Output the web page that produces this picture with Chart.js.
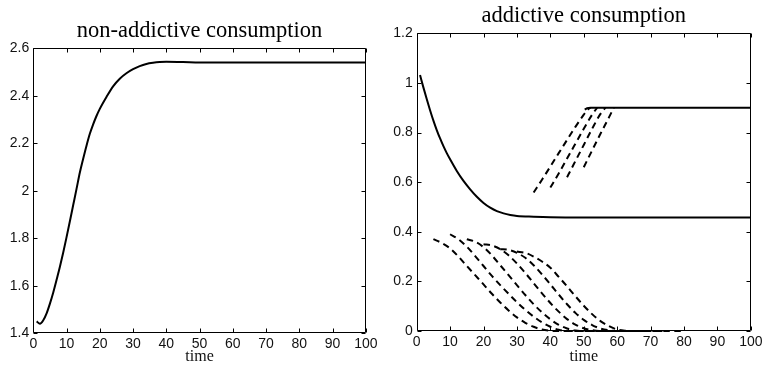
<!DOCTYPE html>
<html>
<head>
<meta charset="utf-8">
<script src="https://cdn.jsdelivr.net/npm/chart.js@4/dist/chart.umd.min.js"></script>
<style>
  body { margin: 0; background: #fff; }
  #wrap { position: relative; width: 765px; height: 365px; }
  canvas { position: absolute; top: 0; }
  #left { left: 0; }
  #right { left: 380px; }
</style>
</head>
<body>
<div id="wrap">
  <canvas id="left" width="380" height="365"></canvas>
  <canvas id="right" width="385" height="365"></canvas>
</div>
<script>
// tick labels
const xTicks = [0, 10, 20, 30, 40, 50, 60, 70, 80, 90, 100];
const leftTicks = [1.4, 1.6, 1.8, 2, 2.2, 2.4, 2.6];
const rightTicks = [0, 0.2, 0.4, 0.6, 0.8, 1, 1.2];

// non-addictive consumption path
const nonAddTime = [1, 2, 3, 4, 5, 6, 7, 8, 9, 10, 11, 12, 13, 14, 15, 16, 17, 18, 19, 20, 22, 24, 26, 28, 30, 32, 34, 36, 38, 40, 45, 50, 60, 70, 80, 90, 100];
const nonAddValue = [1.45, 1.44, 1.455, 1.484, 1.525, 1.572, 1.625, 1.68, 1.74, 1.805, 1.872, 1.94, 2.008, 2.077, 2.135, 2.19, 2.24, 2.28, 2.315, 2.345, 2.395, 2.44, 2.472, 2.495, 2.512, 2.525, 2.534, 2.539, 2.542, 2.543, 2.542, 2.54, 2.54, 2.54, 2.54, 2.54, 2.54];

// addictive consumption, solid paths
const addTime = [1, 2, 3, 4, 5, 6, 7, 8, 9, 10, 12, 14, 16, 18, 20, 22, 24, 26, 28, 30, 35, 40, 50, 60, 70, 80, 90, 100];
const addValue = [1.032, 0.982, 0.935, 0.89, 0.848, 0.81, 0.776, 0.745, 0.717, 0.692, 0.645, 0.605, 0.571, 0.541, 0.516, 0.497, 0.483, 0.474, 0.468, 0.464, 0.461, 0.459, 0.458, 0.458, 0.458, 0.458, 0.458, 0.458];
const highTime = [50.3, 51, 52, 100];
const highValue = [0.892, 0.898, 0.9, 0.9];

// addictive consumption, rising dashed paths
const rise1Time = [35, 37.5, 40, 42.5, 45, 47.5, 50, 51, 52];
const rise1 = [0.558, 0.61, 0.663, 0.717, 0.77, 0.823, 0.872, 0.89, 0.9];
const rise2Time = [40, 42.5, 45, 47.5, 50, 52.5, 54];
const rise2 = [0.578, 0.635, 0.695, 0.755, 0.815, 0.872, 0.9];
const rise3Time = [45, 47.5, 50, 52.5, 55, 56.5];
const rise3 = [0.62, 0.685, 0.75, 0.815, 0.875, 0.9];
const rise4Time = [50, 52.5, 55, 57.5, 59];
const rise4 = [0.66, 0.728, 0.795, 0.86, 0.9];

// addictive consumption, falling dashed paths
const fall1Time = [5, 7.5, 10, 12.5, 15, 17.5, 20, 22.5, 25, 27.5, 30, 32.5, 35, 37.5, 40, 42.5, 55];
const fall1 = [0.37, 0.355, 0.333, 0.3, 0.262, 0.225, 0.188, 0.15, 0.115, 0.083, 0.055, 0.033, 0.017, 0.006, 0.001, 0, 0];
const fall2Time = [10, 12.5, 15, 17.5, 20, 22.5, 25, 27.5, 30, 32.5, 35, 37.5, 40, 42.5, 45, 60];
const fall2 = [0.39, 0.37, 0.34, 0.302, 0.262, 0.222, 0.185, 0.15, 0.116, 0.085, 0.058, 0.035, 0.017, 0.005, 0, 0];
const fall3Time = [15, 17.5, 20, 22.5, 25, 27.5, 30, 32.5, 35, 37.5, 40, 42.5, 45, 47.5, 50, 65];
const fall3 = [0.37, 0.36, 0.338, 0.305, 0.265, 0.225, 0.185, 0.145, 0.108, 0.075, 0.047, 0.025, 0.01, 0.002, 0, 0];
const fall4Time = [20, 22.5, 25, 27.5, 30, 32.5, 35, 37.5, 40, 42.5, 45, 47.5, 50, 52.5, 55, 70];
const fall4 = [0.35, 0.345, 0.33, 0.305, 0.272, 0.234, 0.193, 0.152, 0.113, 0.078, 0.048, 0.026, 0.011, 0.003, 0, 0];
const fall5Time = [25, 27.5, 30, 32.5, 35, 37.5, 40, 42.5, 45, 47.5, 50, 52.5, 55, 57.5, 60, 75];
const fall5 = [0.33, 0.327, 0.315, 0.295, 0.265, 0.228, 0.188, 0.147, 0.108, 0.073, 0.045, 0.024, 0.01, 0.003, 0, 0];
const fall6Time = [30, 32.5, 35, 37.5, 40, 42.5, 45, 47.5, 50, 52.5, 55, 57.5, 60, 62.5, 65, 80];
const fall6 = [0.32, 0.315, 0.3, 0.28, 0.255, 0.218, 0.18, 0.14, 0.102, 0.068, 0.04, 0.02, 0.006, 0.001, 0, 0];

const tickFont = { family: 'Liberation Sans', size: 14 };
const serif = 'Liberation Serif';

function pts(t, v) {
  return t.map((x, i) => ({ x: x, y: v[i] }));
}

function path(t, v, dashed) {
  return {
    data: pts(t, v),
    borderColor: '#000',
    borderWidth: 2,
    borderDash: dashed ? [6.5, 4.5] : [],
    pointRadius: 0,
    cubicInterpolationMode: 'monotone',
    fill: false,
    clip: false
  };
}

// box round the plot with inward ticks on all four sides
const frameTicks = {
  id: 'frameTicks',
  afterDraw(chart) {
    const ctx = chart.ctx;
    const a = chart.chartArea;
    const x = chart.scales.x, y = chart.scales.y;
    const L = Math.round(a.left) + 0.5, R = Math.round(a.right) - 0.5;
    const T = Math.round(a.top) + 0.5, B = Math.round(a.bottom) - 0.5;
    ctx.save();
    ctx.strokeStyle = '#000';
    ctx.lineWidth = 1;
    ctx.beginPath();
    ctx.rect(L, T, R - L, B - T);
    x.ticks.forEach(t => {
      const px = Math.round(x.getPixelForValue(t.value)) + 0.5;
      ctx.moveTo(px, B); ctx.lineTo(px, B - 4);
      ctx.moveTo(px, T); ctx.lineTo(px, T + 4);
    });
    y.ticks.forEach(t => {
      const py = Math.round(y.getPixelForValue(t.value)) + 0.5;
      ctx.moveTo(L, py); ctx.lineTo(L + 4, py);
      ctx.moveTo(R, py); ctx.lineTo(R - 4, py);
    });
    ctx.stroke();
    ctx.restore();
  }
};

function makeChart(id, title, titlePad, datasets, yTicks, yWidth, xHeight, padRight) {
  return new Chart(document.getElementById(id), {
    type: 'line',
    data: { datasets: datasets },
    options: {
      responsive: false,
      animation: false,
      layout: { padding: { left: 0, right: padRight, top: 0, bottom: 0 }, autoPadding: false },
      plugins: {
        legend: { display: false },
        tooltip: { enabled: false },
        title: {
          display: true,
          text: title,
          fullSize: false,
          color: '#000',
          font: { family: serif, size: 22.5, weight: 'normal' },
          padding: titlePad
        }
      },
      scales: {
        x: {
          type: 'linear',
          min: 0,
          max: 100,
          afterBuildTicks: s => { s.ticks = xTicks.map(v => ({ value: v })); },
          afterFit: s => { s.height = xHeight; },
          grid: { display: false, drawTicks: false },
          border: { display: false },
          ticks: { color: '#111', font: tickFont, padding: 2.5, maxRotation: 0, autoSkip: false, callback: v => String(v) },
          title: { display: true, text: 'time', color: '#111', font: { family: serif, size: 16, lineHeight: 1 }, padding: { top: 0, bottom: 0 } }
        },
        y: {
          type: 'linear',
          min: yTicks[0],
          max: yTicks[yTicks.length - 1],
          afterBuildTicks: s => { s.ticks = yTicks.map(v => ({ value: v })); },
          afterFit: s => { s.width = yWidth; },
          grid: { display: false, drawTicks: false },
          border: { display: false },
          ticks: { color: '#111', font: tickFont, padding: 4, autoSkip: false, callback: v => String(v) }
        }
      }
    },
    plugins: [frameTicks]
  });
}

makeChart('left', 'non-addictive consumption', { top: 17.2, bottom: 4.1 },
  [path(nonAddTime, nonAddValue, false)],
  leftTicks, 33.3, 31.7, 12);

makeChart('right', 'addictive consumption', { top: 2.9, bottom: 3.4 },
  [
    path(addTime, addValue, false),
    path(highTime, highValue, false),
    path(rise1Time, rise1, true),
    path(rise2Time, rise2, true),
    path(rise3Time, rise3, true),
    path(rise4Time, rise4, true),
    path(fall1Time, fall1, true),
    path(fall2Time, fall2, true),
    path(fall3Time, fall3, true),
    path(fall4Time, fall4, true),
    path(fall5Time, fall5, true),
    path(fall6Time, fall6, true)
  ],
  rightTicks, 36.7, 34, 14);
</script>
</body>
</html>
